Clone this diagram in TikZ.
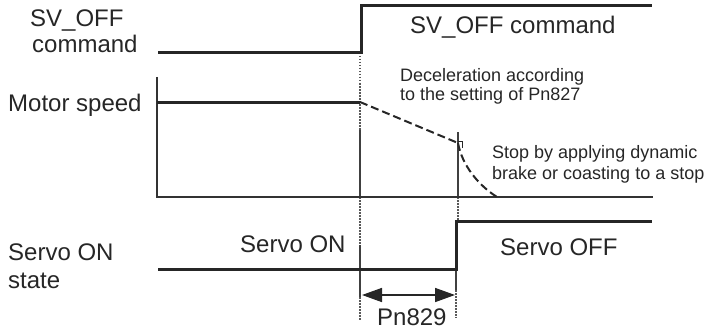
\documentclass[tikz,border=0pt]{standalone}
\usepackage{fontspec}
\setmainfont{Liberation Sans}
\usetikzlibrary{arrows.meta}
\begin{document}
\begin{tikzpicture}[x=1pt,y=-1pt,
  big/.style={font=\fontsize{24}{28}\selectfont, inner sep=0, anchor=base west, text=black!85},
  small/.style={font=\fontsize{18}{20}\selectfont, inner sep=0, anchor=base west, text=black!85},
  sig/.style={line width=3pt, black!85, line join=miter},
  axis/.style={line width=1.6pt, black!80},
  guide/.style={line width=1.2pt, black!75},
  dots/.style={line width=1.2pt, black!65, dash pattern=on 1.5pt off 1.5pt},
  dec/.style={line width=2pt, black!85, dash pattern=on 8pt off 4pt},
  tip/.style={line width=1.6pt, black!85, {Triangle[length=20pt,width=14pt]}-{Triangle[length=20pt,width=14pt]}}
]
\useasboundingbox (0,0) rectangle (707,329);

% coordinates
\coordinate (c0) at (158,53);
\coordinate (c1) at (361,53);
\coordinate (c2) at (361,6);
\coordinate (c3) at (652,6);
\coordinate (m0) at (157,102);
\coordinate (m1) at (360,102);
\coordinate (k) at (458,143);
\coordinate (e) at (497,197);
\coordinate (a0) at (157,77);
\coordinate (a1) at (157,197);
\coordinate (a2) at (653,197);
\coordinate (s0) at (158,269);
\coordinate (s1) at (456,269);
\coordinate (s2) at (456,221);
\coordinate (s3) at (652,221);
\coordinate (ar0) at (362,295);
\coordinate (ar1) at (455,295);

% guide lines at x=360
\draw[dots] (360,53) -- (360,130);
\draw[guide] (360,130) -- (360,197);
\draw[dots] (360,197) -- (360,245);
\draw[guide] (360,245) -- (360,297);
\draw[dots] (360,297) -- (360,320);
% guide lines at x=458
\draw[guide] (458,132) -- (458,197);
\draw[dots] (458,197) -- (458,221);
\draw[guide] (456,269) -- (456,290);
\draw[dots] (456,290) -- (456,318);

% axis of motor speed
\draw[axis] (a0) -- (a1) -- (a2);

% signals
\draw[sig] (c0) -- (c1) -- (c2) -- (c3);
\draw[sig] (m0) -- (m1);
\draw[sig] (s0) -- (s1) -- (s2) -- (s3);

% deceleration
\draw[dec] (m1) -- (k);
\draw[dec] (k) .. controls (462,165) and (478,185) .. (e);
\draw[line width=1pt, black!85] (458,141) -- (462,141) -- (462,148);

% Pn829 arrow
\draw[tip] (ar0) -- (ar1);

% texts
\node[big] (t1) at (30,26.5) {SV\_OFF};
\node[big] (t2) at (32,53) {command};
\node[big] (t3) at (8,111.5) {Motor speed};
\node[big] (t4) at (8,260) {Servo ON};
\node[big] (t5) at (8,288) {state};
\node[big] (t6) at (410,34) {SV\_OFF command};
\node[small] (t7) at (400,81.5) {Deceleration according};
\node[small] (t8) at (400,100) {to the setting of Pn827};
\node[small] (t9) at (492,158) {Stop by applying dynamic};
\node[small] (t10) at (492,179) {brake or coasting to a stop};
\node[big] (t11) at (240,252.5) {Servo ON};
\node[big] (t12) at (500,255) {Servo OFF};
\node[big] (t13) at (377,325) {Pn829};
\end{tikzpicture}
\end{document}
